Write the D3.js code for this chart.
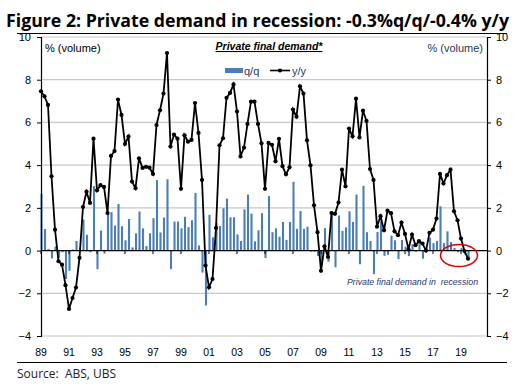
<!DOCTYPE html>
<html><head><meta charset="utf-8">
<script src="https://cdn.jsdelivr.net/npm/d3@7"></script>
<style>body{margin:0;background:#fff;} svg{display:block;}</style>
</head><body>
<script>
const startYear = 1989;
const qoq = [2.67,1.01,0.08,-0.37,0.19,-0.35,-0.08,-1.33,-0.95,0.05,
0.45,0.11,1.45,0.74,-0.08,3.02,-0.87,0.94,-0.14,1.78,
1.80,1.17,2.18,1.14,0.48,1.48,0.15,0.81,1.83,1.04,
0.21,0.81,1.52,3.30,0.85,1.55,3.34,-0.87,1.36,1.36,
1.04,1.58,1.10,1.42,2.70,0.24,-1.03,-2.57,1.67,0.62,
1.30,1.15,1.98,2.43,1.56,1.56,0.76,0.45,1.93,2.62,
1.73,0.43,0.95,1.75,-0.35,2.55,0.86,1.04,0.65,1.34,
0.50,1.34,3.22,1.02,1.85,1.02,1.12,-0.05,-0.05,-0.25,
-0.68,1.05,-0.52,1.85,-0.78,1.64,0.92,1.09,1.84,1.34,
2.62,-0.64,3.03,0.86,0.45,-1.10,0.87,1.36,-0.25,-0.20,
0.70,0.48,-0.40,0.50,0.18,-0.26,0.30,-0.05,0.40,-0.38,
0.10,0.60,0.35,0.45,2.07,0.35,0.90,0.40,0.12,-0.08,
0.12,-0.18,-0.30];
const yoy = [7.46,7.22,6.82,3.48,0.98,-0.50,-0.66,-1.62,-2.73,-2.22,
-1.73,-0.34,2.04,2.76,2.23,5.24,2.82,3.06,2.98,1.76,
4.43,4.66,7.07,6.35,4.99,5.34,3.23,2.92,4.32,3.87,
3.92,3.88,3.59,5.88,6.57,7.35,9.25,4.87,5.43,5.24,
2.89,5.40,5.10,5.18,6.91,5.51,3.31,-0.70,-1.72,-1.33,
1.06,4.93,5.26,7.15,7.38,7.78,6.51,4.41,4.82,5.93,
6.97,6.97,5.93,5.02,2.89,5.04,4.95,4.18,5.23,3.95,
3.57,3.90,6.60,6.27,7.69,7.35,5.16,3.99,2.12,0.86,
-0.95,0.20,-0.30,1.76,1.72,2.25,3.79,3.01,5.71,5.35,
7.11,5.30,6.55,6.07,3.82,3.31,1.12,1.61,0.95,1.87,
1.75,0.90,0.72,1.31,0.78,0.05,0.75,0.25,0.44,0.33,
0.00,0.83,0.98,1.50,3.59,3.14,3.53,3.79,1.84,1.42,
0.56,-0.02,-0.38];
const yearTicks = [1989,1991,1993,1995,1997,1999,2001,2003,2005,2007,2009,2011,2013,2015,2017,2019];
const yearLabels = ["89","91","93","95","97","99","01","03","05","07","09","11","13","15","17","19"];
const yTicks = [-4,-2,0,2,4,6,8,10];

const quarters = qoq.map((d,i)=> startYear + i/4);
const data = quarters.map((t,i)=>({t, q:qoq[i], y:yoy[i]}));

const W=525,H=389;
const svg = d3.select("body").append("svg").attr("width",W).attr("height",H);
const x = d3.scaleLinear().domain([1989, 2020.857]).range([41,487]);
const y = d3.scaleLinear().domain([-4,10]).range([336,37]);

// gridlines
svg.append("g").selectAll("line").data(yTicks.filter(v=>v!==0)).join("line")
  .attr("x1",41).attr("x2",487).attr("y1",d=>y(d)).attr("y2",d=>y(d))
  .attr("stroke","#c8c8c8").attr("stroke-width",1.2);

// title
svg.append("text").attr("x",6).attr("y",27).text("Figure 2: Private demand in recession: -0.3%q/q/-0.4% y/y")
  .attr("font-family","Open Sans, sans-serif").attr("font-weight","bold").attr("font-size",17.5)
  .attr("textLength",503).attr("lengthAdjust","spacingAndGlyphs").attr("fill","#000");
svg.append("line").attr("x1",17).attr("x2",507).attr("y1",33.5).attr("y2",33.5).attr("stroke","#000").attr("stroke-width",1.2);
svg.append("line").attr("x1",17).attr("x2",507).attr("y1",362.5).attr("y2",362.5).attr("stroke","#000").attr("stroke-width",1.2);

// bars
const bw = 2.1;
svg.append("g").selectAll("rect").data(data).join("rect")
  .attr("x",d=>x(d.t)-bw/2+0.5).attr("width",bw)
  .attr("y",d=>Math.min(y(d.q),y(0))).attr("height",d=>Math.abs(y(d.q)-y(0)))
  .attr("fill","#4a7ebb");

// axes
const left = d3.axisLeft(y).tickValues(yTicks).tickSize(4).tickFormat(d3.format("d"));
const gl = svg.append("g").attr("transform","translate(41,0)").call(left);
const right = d3.axisRight(y).tickValues(yTicks).tickSize(4).tickFormat(d3.format("d"));
const gr = svg.append("g").attr("transform","translate(487,0)").call(right);
[gl,gr].forEach(g=>{
  g.select(".domain").attr("stroke","#000").attr("stroke-width",1.2);
  g.selectAll(".tick line").attr("stroke","#000");
  g.selectAll("text").attr("font-family","Liberation Sans, Arial, sans-serif").attr("font-size",11).attr("fill","#000");
});
gl.selectAll("text").attr("x",-10);
gr.selectAll("text").attr("x",9);
gl.selectAll(".tick").filter(d=>d===10).select("text").attr("dy","0.36em");
gr.selectAll(".tick").filter(d=>d===10).select("text").attr("dy","0.36em");

// zero line + x ticks
svg.append("line").attr("x1",41).attr("x2",487).attr("y1",y(0)).attr("y2",y(0)).attr("stroke","#000").attr("stroke-width",1.2);
svg.append("g").selectAll("line").data(yearTicks).join("line")
  .attr("x1",d=>x(d)).attr("x2",d=>x(d)).attr("y1",y(0)).attr("y2",y(0)+3.5).attr("stroke","#000");
svg.append("g").selectAll("text").data(yearTicks).join("text")
  .attr("x",d=>x(d)).attr("y",356).attr("text-anchor","middle").text((d,i)=>yearLabels[i])
  .attr("font-family","Liberation Sans, Arial, sans-serif").attr("font-size",10.5).attr("fill","#000");

// line
const line = d3.line().x(d=>x(d.t)).y(d=>y(d.y));
svg.append("path").datum(data).attr("d",line).attr("fill","none").attr("stroke","#000").attr("stroke-width",1.8);
svg.append("g").selectAll("circle").data(data).join("circle")
  .attr("cx",d=>x(d.t)).attr("cy",d=>y(d.y)).attr("r",2.1).attr("fill","#000");

// texts
const f = "Liberation Sans, Arial, sans-serif";
svg.append("text").attr("x",45).attr("y",52).text("% (volume)").attr("font-family",f).attr("font-size",11).attr("fill","#000");
svg.append("text").attr("x",483).attr("y",52).attr("text-anchor","end").text("% (volume)").attr("font-family",f).attr("font-size",11).attr("fill","#1f3864");
svg.append("text").attr("x",269).attr("y",50).attr("text-anchor","middle").text("Private final demand*")
  .attr("font-family",f).attr("font-size",10.5).attr("font-weight","bold").attr("font-style","italic").attr("text-decoration","underline").attr("fill","#000");
// legend
svg.append("rect").attr("x",225).attr("y",68).attr("width",18).attr("height",5).attr("fill","#4a7ebb");
svg.append("text").attr("x",244).attr("y",75).text("q/q").attr("font-family",f).attr("font-size",11).attr("fill","#1f3864");
svg.append("line").attr("x1",270).attr("x2",290).attr("y1",70.5).attr("y2",70.5).attr("stroke","#000").attr("stroke-width",1.6);
svg.append("circle").attr("cx",280).attr("cy",70.5).attr("r",2.1).attr("fill","#000");
svg.append("text").attr("x",292).attr("y",75).text("y/y").attr("font-family",f).attr("font-size",11).attr("fill","#1f3864");

svg.append("text").attr("x",347).attr("y",285).text("Private final demand in  recession").attr("xml:space","preserve")
  .attr("font-family",f).attr("font-size",9.5).attr("font-style","italic").attr("fill","#1f3864")
  .attr("textLength",131).attr("lengthAdjust","spacingAndGlyphs");
svg.append("ellipse").attr("cx",459).attr("cy",255.5).attr("rx",18.5).attr("ry",11).attr("fill","none").attr("stroke","#e00000").attr("stroke-width",1.5);

svg.append("text").attr("x",17).attr("y",378).text("Source:  ABS, UBS").attr("xml:space","preserve")
  .attr("font-family","Open Sans, sans-serif").attr("font-size",12).attr("fill","#222");
</script>
</body></html>
